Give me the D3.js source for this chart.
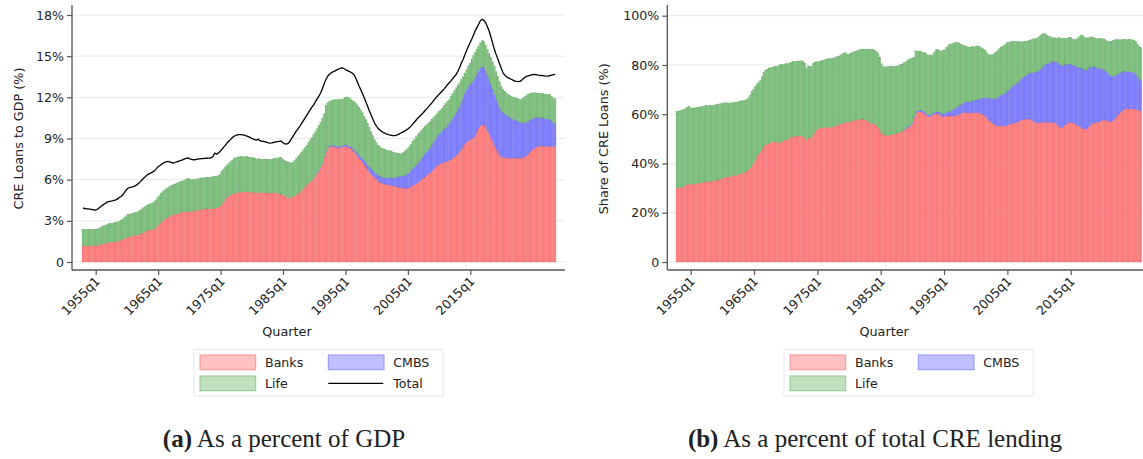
<!DOCTYPE html>
<html>
<head>
<meta charset="utf-8">
<script src="https://cdn.jsdelivr.net/npm/d3@7"></script>
<style>
  body { margin: 0; background: #fff; }
  svg text { font-family: "DejaVu Sans", sans-serif; fill: #222; }
  text.caption { font-family: "Liberation Serif", serif; }
</style>
</head>
<body>
<svg id="fig" width="1143" height="459"></svg>
<script>
// Quarterly CRE loans held by each lender type, % of GDP (first quarter of the sample onward)
const banks = [
  1.18,1.18,1.17,1.17,1.18,1.19,1.2,1.2,1.2,1.23,
  1.27,1.3,1.34,1.37,1.4,1.42,1.44,1.45,1.47,1.48,
  1.5,1.54,1.58,1.63,1.69,1.76,1.81,1.84,1.87,1.9,
  1.92,1.95,1.99,2.04,2.1,2.15,2.21,2.27,2.31,2.34,
  2.38,2.42,2.52,2.64,2.76,2.86,2.97,3.1,3.2,3.26,
  3.35,3.42,3.43,3.45,3.5,3.56,3.6,3.63,3.64,3.65,
  3.66,3.67,3.68,3.69,3.7,3.72,3.76,3.8,3.83,3.85,
  3.86,3.87,3.87,3.88,3.88,3.89,3.92,3.95,4.0,4.08,
  4.25,4.38,4.55,4.7,4.8,4.87,4.94,4.99,5.03,5.06,
  5.08,5.08,5.1,5.1,5.11,5.11,5.1,5.08,5.07,5.06,
  5.05,5.08,5.04,5.04,5.05,5.05,5.04,5.03,5.03,5.04,
  5.04,5.04,5.0,4.98,4.96,4.9,4.84,4.76,4.7,4.68,
  4.7,4.75,4.82,4.9,5.0,5.1,5.22,5.34,5.46,5.6,
  5.72,5.85,6.0,6.15,6.3,6.46,6.6,6.8,7.1,7.6,
  8.0,8.25,8.35,8.4,8.42,8.38,8.35,8.3,8.32,8.35,
  8.4,8.43,8.42,8.35,8.3,8.2,8.06,7.95,7.8,7.62,
  7.45,7.28,7.1,6.92,6.75,6.6,6.45,6.3,6.15,6.02,
  5.92,5.82,5.76,5.72,5.68,5.65,5.62,5.6,5.56,5.52,
  5.5,5.48,5.46,5.42,5.39,5.37,5.36,5.36,5.4,5.48,
  5.56,5.63,5.72,5.82,5.92,6.0,6.1,6.2,6.3,6.4,
  6.52,6.65,6.78,6.88,6.98,7.08,7.16,7.22,7.27,7.3,
  7.33,7.38,7.45,7.55,7.66,7.78,7.9,8.05,8.2,8.38,
  8.56,8.72,8.84,8.92,8.98,9.05,9.2,9.45,9.7,9.92,
  10.02,9.98,9.85,9.65,9.4,9.1,8.8,8.5,8.22,7.98,
  7.8,7.7,7.64,7.6,7.58,7.58,7.57,7.56,7.56,7.57,
  7.58,7.58,7.58,7.6,7.64,7.7,7.8,7.92,8.05,8.18,
  8.3,8.38,8.43,8.45,8.45,8.44,8.43,8.42,8.42,8.43,
  8.43,8.42,8.42
];

const cmbs = [
  0,0,0,0,0,0,0,0,0,0,
  0,0,0,0,0,0,0,0,0,0,
  0,0,0,0,0,0,0,0,0,0,
  0,0,0,0,0,0,0,0,0,0,
  0,0,0,0,0,0,0,0,0,0,
  0,0,0,0,0,0,0,0,0,0,
  0,0,0,0,0,0,0,0,0,0,
  0,0,0,0,0,0,0,0,0,0,
  0,0,0,0,0,0,0,0,0,0,
  0,0,0,0,0,0,0,0,0,0,
  0,0,0,0,0,0,0,0,0,0,
  0,0,0,0,0,0,0,0,0,0,
  0,0,0,0,0,0,0,0,0,0,
  0,0,0,0.02,0.03,0.04,0.05,0.06,0.07,0.07,
  0.08,0.08,0.08,0.09,0.09,0.1,0.1,0.1,0.1,0.11,
  0.11,0.11,0.12,0.12,0.13,0.14,0.15,0.17,0.19,0.21,
  0.24,0.27,0.3,0.33,0.35,0.37,0.38,0.39,0.4,0.41,
  0.42,0.43,0.44,0.45,0.46,0.48,0.5,0.53,0.56,0.6,
  0.65,0.7,0.76,0.82,0.88,0.94,1.0,1.06,1.12,1.18,
  1.24,1.3,1.36,1.42,1.48,1.54,1.6,1.66,1.72,1.78,
  1.84,1.9,1.97,2.04,2.11,2.18,2.26,2.34,2.42,2.5,
  2.6,2.7,2.8,2.9,3.0,3.12,3.24,3.36,3.48,3.6,
  3.72,3.84,3.95,4.04,4.12,4.18,4.22,4.24,4.24,4.22,
  4.2,4.16,4.1,4.04,3.96,3.88,3.8,3.72,3.64,3.55,
  3.46,3.37,3.28,3.2,3.12,3.04,2.97,2.9,2.84,2.78,
  2.72,2.66,2.6,2.55,2.5,2.45,2.4,2.35,2.3,2.25,
  2.2,2.16,2.12,2.09,2.07,2.05,2.03,2.01,1.99,1.96,
  1.85,1.75,1.66
];

const life = [
  1.21,1.21,1.22,1.22,1.21,1.2,1.19,1.2,1.19,1.21,
  1.23,1.27,1.3,1.32,1.35,1.36,1.36,1.38,1.39,1.4,
  1.42,1.45,1.46,1.5,1.56,1.61,1.65,1.66,1.66,1.66,
  1.66,1.68,1.71,1.74,1.77,1.81,1.84,1.87,1.89,1.91,
  1.92,1.95,1.98,2.04,2.08,2.12,2.15,2.15,2.13,2.14,
  2.15,2.16,2.19,2.23,2.25,2.24,2.24,2.25,2.29,2.33,
  2.4,2.39,2.34,2.31,2.3,2.29,2.3,2.3,2.29,2.29,
  2.29,2.3,2.31,2.31,2.32,2.33,2.32,2.3,2.3,2.32,
  2.37,2.4,2.37,2.35,2.38,2.43,2.48,2.53,2.57,2.59,
  2.58,2.59,2.58,2.58,2.56,2.55,2.55,2.55,2.53,2.52,
  2.45,2.48,2.46,2.45,2.45,2.45,2.45,2.45,2.45,2.46,
  2.49,2.52,2.58,2.62,2.66,2.62,2.58,2.59,2.6,2.6,
  2.5,2.5,2.58,2.67,2.72,2.76,2.8,2.84,2.88,2.9,
  2.98,3.05,3.08,3.11,3.17,3.22,3.3,3.32,3.31,3.13,
  3.32,3.27,3.27,3.27,3.29,3.36,3.39,3.42,3.42,3.39,
  3.39,3.44,3.49,3.53,3.47,3.46,3.51,3.48,3.46,3.45,
  3.41,3.33,3.22,3.13,3.03,2.85,2.67,2.51,2.37,2.27,
  2.18,2.15,2.11,2.08,2.06,2.03,2.02,1.97,1.93,1.88,
  1.82,1.76,1.69,1.65,1.68,1.71,1.76,1.83,1.88,1.92,
  1.96,2.01,2.04,2.06,2.06,2.06,2.04,2.02,1.98,1.94,
  1.89,1.83,1.77,1.74,1.71,1.68,1.66,1.66,1.69,1.75,
  1.77,1.76,1.8,1.83,1.84,1.79,1.74,1.64,1.62,1.52,
  1.47,1.44,1.51,1.54,1.7,1.82,1.88,1.83,1.81,1.84,
  1.93,1.91,1.85,1.8,1.84,1.92,2.0,2.06,2.04,1.97,
  1.89,1.74,1.68,1.65,1.62,1.58,1.58,1.59,1.6,1.61,
  1.62,1.64,1.66,1.75,1.86,1.95,2.0,1.98,1.95,1.89,
  1.83,1.78,1.75,1.75,1.76,1.78,1.79,1.8,1.79,1.79,
  1.77,1.78,1.81
];

// All CRE loans, every holder included, % of GDP
const total = [
  3.92,3.9,3.88,3.87,3.86,3.84,3.8,3.79,3.82,3.9,
  4.0,4.1,4.2,4.28,4.36,4.4,4.43,4.46,4.5,4.53,
  4.6,4.7,4.77,4.9,5.08,5.25,5.38,5.43,5.46,5.5,
  5.55,5.62,5.72,5.84,5.98,6.1,6.22,6.34,6.42,6.48,
  6.55,6.62,6.75,6.9,7.0,7.09,7.18,7.26,7.3,7.33,
  7.3,7.26,7.21,7.25,7.3,7.34,7.38,7.42,7.48,7.53,
  7.58,7.56,7.5,7.47,7.45,7.46,7.5,7.52,7.53,7.54,
  7.55,7.56,7.57,7.58,7.6,7.7,7.94,7.85,7.95,8.06,
  8.2,8.35,8.5,8.67,8.8,8.92,9.05,9.16,9.22,9.26,
  9.28,9.28,9.27,9.24,9.2,9.16,9.1,9.03,8.97,8.92,
  8.88,8.95,8.84,8.8,8.79,8.76,8.72,8.68,8.67,8.68,
  8.72,8.75,8.77,8.79,8.82,8.72,8.62,8.6,8.62,8.75,
  8.95,9.15,9.35,9.55,9.72,9.89,10.1,10.3,10.5,10.7,
  10.9,11.1,11.3,11.47,11.7,11.9,12.1,12.33,12.65,13.0,
  13.3,13.54,13.68,13.78,13.86,13.91,13.98,14.05,14.1,14.15,
  14.12,14.05,13.96,13.91,13.85,13.78,13.67,13.45,13.15,12.85,
  12.57,12.28,11.98,11.66,11.35,11.02,10.72,10.42,10.13,9.92,
  9.75,9.62,9.52,9.44,9.38,9.32,9.28,9.25,9.22,9.21,
  9.22,9.26,9.32,9.4,9.45,9.52,9.6,9.68,9.78,9.9,
  10.05,10.2,10.35,10.5,10.62,10.75,10.88,11.02,11.16,11.3,
  11.45,11.6,11.76,11.92,12.06,12.2,12.33,12.46,12.6,12.75,
  12.92,13.06,13.2,13.36,13.52,13.67,13.9,14.18,14.5,14.76,
  15.1,15.4,15.7,15.98,16.25,16.55,16.85,17.1,17.35,17.6,
  17.69,17.6,17.44,17.15,16.83,16.4,15.95,15.5,15.13,14.8,
  14.45,14.1,13.79,13.62,13.5,13.42,13.36,13.3,13.24,13.18,
  13.16,13.15,13.18,13.28,13.4,13.5,13.54,13.58,13.62,13.65,
  13.67,13.65,13.62,13.6,13.59,13.58,13.56,13.55,13.54,13.58,
  13.62,13.65,13.67
];

const tickYears = [1955, 1965, 1975, 1985, 1995, 2005, 2015];
const gdpTicks = [0, 3, 6, 9, 12, 15, 18];
const shareTicks = [0, 20, 40, 60, 80, 100];
const lenders = ["banks", "cmbs", "life"];
const lenderNames = ["Banks", "CMBS", "Life"];

// ---- styling ----
const fillColor = { banks: "#ff8080", cmbs: "#8080ff", life: "#80c080" };
const edgeColor = { banks: "#e85f5f", cmbs: "#6060e8", life: "#5ea65e" };
const keyFill = { banks: "#ffc0c0", cmbs: "#c0c0ff", life: "#c0e0c0" };
const keyEdge = { banks: "#ff9090", cmbs: "#9090ff", life: "#90c890" };

const n = banks.length;
const gdpRows = d3.range(n).map(i => ({ idx: i, banks: banks[i], cmbs: cmbs[i], life: life[i] }));
const shareRows = d3.range(n).map(i => ({
  idx: i,
  banks: banks[i] / total[i] * 100,
  cmbs: cmbs[i] / total[i] * 100,
  life: life[i] / total[i] * 100
}));

const svg = d3.select("#fig");

const panels = [
  {
    rows: gdpRows, ticks: gdpTicks, yMax: 18,
    fmt: v => v === 0 ? "0" : v + "%",
    axisX: 72, axisR: 565, baseY: 270, axisTop: 5, y0: 262, y1: 15,
    barL: 82, barR: 556, tickL: 95.7, tickR: 470.3,
    title: "CRE Loans to GDP (%)", titleX: 23,
    legendX: 194, withTotal: true,
    tag: "(a)", caption: " As a percent of GDP", captionX: 284
  },
  {
    rows: shareRows, ticks: shareTicks, yMax: 100,
    fmt: v => v === 0 ? "0" : v + "%",
    axisX: 667.3, axisR: 1143, baseY: 270, axisTop: 5, y0: 262, y1: 15.7,
    barL: 676, barR: 1141.7, tickL: 690.7, tickR: 1070.7,
    title: "Share of CRE Loans (%)", titleX: 608,
    legendX: 784, withTotal: false,
    tag: "(b)", caption: " As a percent of total CRE lending", captionX: 875
  }
];

panels.forEach(p => {
  const g = svg.append("g");
  const y = d3.scaleLinear().domain([0, p.yMax]).range([p.y0, p.y1]);
  const x = d3.scaleBand().domain(d3.range(n)).range([p.barL, p.barR]);
  const xt = d3.scaleLinear()
    .domain([tickYears[0], tickYears[tickYears.length - 1]])
    .range([p.tickL, p.tickR]);

  // horizontal gridlines
  g.append("g").selectAll("line").data(p.ticks).join("line")
    .attr("x1", p.axisX).attr("x2", p.axisR)
    .attr("y1", d => y(d)).attr("y2", d => y(d))
    .attr("stroke", "#e3ecee").attr("stroke-width", 1);

  // stacked bars
  const layers = d3.stack().keys(lenders)(p.rows);
  g.append("g").selectAll("g").data(layers).join("g")
    .attr("fill", d => fillColor[d.key])
    .attr("stroke", d => edgeColor[d.key])
    .attr("stroke-width", 0.22)
    .selectAll("rect")
    .data(d => d.filter(s => s[1] - s[0] > 0))
    .join("rect")
    .attr("x", s => x(s.data.idx))
    .attr("width", x.bandwidth())
    .attr("y", s => y(s[1]))
    .attr("height", s => y(s[0]) - y(s[1]));

  // total line
  if (p.withTotal) {
    g.append("path")
      .datum(total)
      .attr("fill", "none")
      .attr("stroke", "#000")
      .attr("stroke-width", 1.3)
      .attr("stroke-linejoin", "round")
      .attr("d", d3.line().x((d, i) => x(i) + x.bandwidth() / 2).y(d => y(d)));
  }

  // y axis
  const ya = g.append("g").attr("transform", `translate(${p.axisX},0)`)
    .call(d3.axisLeft(y).tickValues(p.ticks).tickFormat(p.fmt).tickSize(5).tickPadding(3).tickSizeOuter(0));
  ya.select(".domain").remove();
  ya.selectAll(".tick line").attr("stroke", "#555").attr("stroke-width", 1.2);
  ya.selectAll(".tick text").attr("font-size", 12.6).attr("font-family", "DejaVu Sans").attr("fill", "#222");

  // x axis
  const xa = g.append("g").attr("transform", `translate(0,${p.baseY})`)
    .call(d3.axisBottom(xt).tickValues(tickYears).tickFormat(v => v + "q1").tickSize(5).tickSizeOuter(0));
  xa.select(".domain").remove();
  xa.selectAll(".tick line").attr("stroke", "#555").attr("stroke-width", 1.2);
  xa.selectAll(".tick text")
    .attr("font-size", 12.6).attr("font-family", "DejaVu Sans").attr("fill", "#222")
    .attr("x", 0).attr("y", 0).attr("dy", 0)
    .attr("text-anchor", "end")
    .attr("transform", "translate(4.5,12) rotate(-45)");

  // axis lines
  g.append("line").attr("x1", p.axisX).attr("x2", p.axisX).attr("y1", p.axisTop).attr("y2", p.baseY)
    .attr("stroke", "#555").attr("stroke-width", 1.3);
  g.append("line").attr("x1", p.axisX).attr("x2", p.axisR).attr("y1", p.baseY).attr("y2", p.baseY)
    .attr("stroke", "#555").attr("stroke-width", 1.3);

  // axis titles
  g.append("text")
    .attr("transform", `translate(${p.titleX},${(p.y0 + p.y1) / 2}) rotate(-90)`)
    .attr("text-anchor", "middle").attr("font-size", 12.8)
    .text(p.title);
  g.append("text")
    .attr("x", (p.axisX + p.axisR) / 2 - (p.withTotal ? 31.5 : 21)).attr("y", 336)
    .attr("text-anchor", "middle").attr("font-size", 12.8)
    .text("Quarter");

  // legend
  const lg = g.append("g").attr("transform", `translate(${p.legendX},349.3)`);
  lg.append("rect").attr("width", 249.3).attr("height", 46.7)
    .attr("fill", "#fff").attr("stroke", "#e3eaec").attr("stroke-width", 1);
  const slots = [
    { key: "banks", col: 0, row: 0 },
    { key: "cmbs", col: 1, row: 0 },
    { key: "life", col: 0, row: 1 }
  ];
  slots.forEach(s => {
    const sx = 6 + s.col * 128.3, sy = 5.7 + s.row * 21;
    lg.append("rect").attr("x", sx).attr("y", sy).attr("width", 55.7).attr("height", 14.7)
      .attr("fill", keyFill[s.key]).attr("stroke", keyEdge[s.key]).attr("stroke-width", 1);
    lg.append("text").attr("x", sx + 65).attr("y", sy + 12).attr("font-size", 12.6)
      .text(lenderNames[lenders.indexOf(s.key)]);
  });
  if (p.withTotal) {
    const sx = 6 + 128.3, sy = 5.7 + 21;
    lg.append("line").attr("x1", sx).attr("x2", sx + 55).attr("y1", sy + 7.3).attr("y2", sy + 7.3)
      .attr("stroke", "#000").attr("stroke-width", 1.3);
    lg.append("text").attr("x", sx + 65).attr("y", sy + 12).attr("font-size", 12.6).text("Total");
  }

  // sub-figure caption
  const cap = svg.append("text")
    .attr("class", "caption")
    .attr("x", p.captionX).attr("y", 447)
    .attr("text-anchor", "middle")
    .attr("font-size", 25)
    .attr("fill", "#000");
  cap.append("tspan").attr("font-weight", "bold").text(p.tag);
  cap.append("tspan").text(p.caption);
});
</script>
</body>
</html>
